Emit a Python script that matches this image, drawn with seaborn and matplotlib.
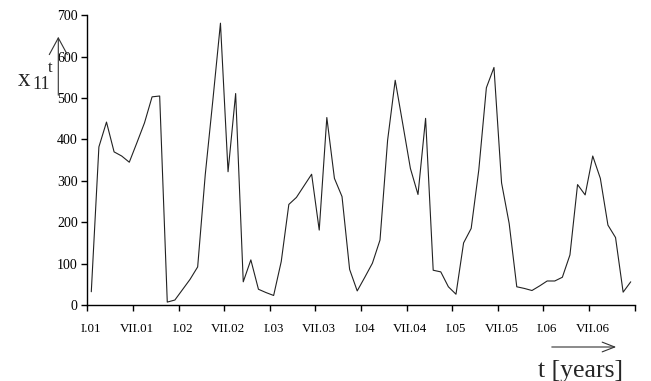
import numpy as np
import pandas as pd
import matplotlib
matplotlib.use("Agg")
import matplotlib.pyplot as plt
import seaborn as sns

# monthly values, one list per year
y2001 = [32, 382, 442, 370, 360, 345, 392, 440, 503, 505, 7, 12]
y2002 = [37, 62, 92, 315, 495, 681, 322, 511, 56, 109, 38, 30]
y2003 = [23, 105, 243, 260, 288, 316, 181, 453, 306, 262, 86, 34]
y2004 = [67, 101, 157, 398, 543, 437, 330, 267, 451, 84, 80, 44]
y2005 = [26, 150, 185, 326, 525, 574, 295, 197, 44, 40, 35, 46]
y2006 = [58, 58, 67, 121, 291, 266, 360, 306, 193, 163, 31, 56]

tick_labels = ["I.01", "VII.01", "I.02", "VII.02", "I.03", "VII.03",
               "I.04", "VII.04", "I.05", "VII.05", "I.06", "VII.06"]
y_ticks = [0, 100, 200, 300, 400, 500, 600, 700]

values = y2001 + y2002 + y2003 + y2004 + y2005 + y2006
df = pd.DataFrame({"month": np.arange(len(values)) + 0.5, "value": values})

sns.set_style("ticks")
plt.rcParams["font.family"] = ["Liberation Serif", "DejaVu Serif"]

fig = plt.figure(figsize=(6.51, 3.81), dpi=100)
ax = fig.add_axes([0.1344, 0.1995, 0.8403, 0.7603])
sns.lineplot(data=df, x="month", y="value", ax=ax, color="#222222", linewidth=0.8)

ax.set_xlim(0, len(values))
ax.set_ylim(0, 700)
# tick marks at six-month boundaries, labels centred on the month
ax.set_xticks(np.arange(0, len(values) + 1, 6))
ax.set_xticklabels([])
ax.set_xticks(np.arange(0, len(values), 6) + 0.5, minor=True)
ax.set_xticklabels(tick_labels, minor=True)
ax.set_yticks(y_ticks)
ax.set_yticklabels([str(v) for v in y_ticks])
ax.set_xlabel("")
ax.set_ylabel("")
sns.despine(ax=ax)
for s in ["left", "bottom"]:
    ax.spines[s].set_linewidth(1.0)
    ax.spines[s].set_color("black")
ax.tick_params(axis="both", which="major", direction="out", length=4, width=1.0, colors="black")
ax.tick_params(axis="y", labelsize=10, pad=3)
ax.tick_params(axis="x", which="minor", length=0, labelsize=9.4, pad=13, colors="black")

# y label x_11^t with arrow
fig.text(18 / 651, 1 - 86 / 381, "x", fontsize=18, ha="left", va="baseline")
fig.text(32 / 651, 1 - 89 / 381, "11", fontsize=13, ha="left", va="baseline")
fig.text(48 / 651, 1 - 72 / 381, "t", fontsize=12, ha="left", va="baseline")
fig.add_artist(matplotlib.patches.FancyArrowPatch(
    (58.3 / 651, 1 - 98 / 381), (58.3 / 651, 1 - 34 / 381),
    transform=fig.transFigure, arrowstyle="->,head_length=12,head_width=6.5",
    color="#333333", linewidth=0.8, mutation_scale=1))

# x label with arrow
fig.text(538 / 651, 1 - 377 / 381, "t [years]", fontsize=18.5, ha="left", va="baseline")
fig.add_artist(matplotlib.patches.FancyArrowPatch(
    (549 / 651, 1 - 347 / 381), (619 / 651, 1 - 347 / 381),
    transform=fig.transFigure, arrowstyle="->,head_length=9,head_width=3.5",
    color="#333333", linewidth=0.8, mutation_scale=1))

fig.savefig("out.png", dpi=100)
